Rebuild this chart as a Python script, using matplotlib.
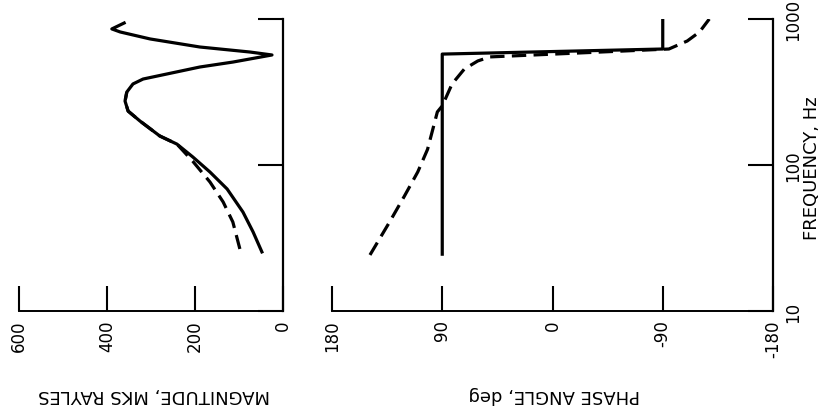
import numpy as np
import matplotlib
matplotlib.use("Agg")
import matplotlib.pyplot as plt

plt.rcParams['font.family'] = ['DejaVu Sans']

# impedance magnitude, MKS rayls, against frequency (Hz)
mag_solid_f = [25.4, 34.8, 47.6, 68.5, 89.5, 113.5, 139, 158, 200, 234, 274, 316, 359, 388,
               420, 469, 507, 567, 594, 643, 730, 815, 855, 939]
mag_solid = [48, 68, 91, 127, 166, 205, 241, 280, 325, 352, 359, 355, 341, 318,
             264, 189, 114, 25, 75, 189, 302, 370, 389, 361]
mag_dash_f = [26.6, 40.7, 55.8, 76.5, 106, 139, 158, 200, 234, 274, 316]
mag_dash = [98, 114, 136, 166, 205, 241, 280, 325, 352, 359, 355]

# phase angle, deg
ph_solid_f = [24.5, 575, 623, 1050]
ph_solid = [90, 90, -90, -90]
ph_dash_f = [24.2, 40.7, 61, 89.6, 128, 231, 254, 359, 454, 516, 550, 623, 707, 815, 1000]
ph_dash = [149, 133, 121, 110, 102, 94, 90, 82, 72, 61, 51, -95, -110, -120, -128]

mag_ticks = [0, 200, 400, 600]
ph_ticks = [180, 90, 0, -90, -180]
f_ticks = [10, 100, 1000]

fig = plt.figure(figsize=(8.23, 4.14), dpi=100)
W, H = 823, 414

def px_axes(x0, x1, y0, y1):
    return fig.add_axes([x0 / W, 1 - y1 / H, (x1 - x0) / W, (y1 - y0) / H])

ax1 = px_axes(19, 283, 20, 312)
ax2 = px_axes(332, 773, 20, 312)

lw = 2.3
ax1.plot(mag_solid, mag_solid_f, color='black', lw=lw, solid_joinstyle='round')
ax1.plot(mag_dash, mag_dash_f, color='black', lw=lw, dashes=(4.5, 2.3))
ax2.plot(ph_solid, ph_solid_f, color='black', lw=lw)
ax2.plot(ph_dash, ph_dash_f, color='black', lw=lw, dashes=(4.5, 2.3))

for ax, ticks, lim in [(ax1, mag_ticks, (600, 0)), (ax2, ph_ticks, (180, -180))]:
    ax.set_yscale('log')
    ax.set_ylim(10, 1000)
    ax.set_xlim(*lim)
    ax.set_xticks(ticks)
    ax.set_xticklabels([str(t) for t in ticks], rotation=90, fontsize=12)
    ax.set_yticks(f_ticks)
    ax.yaxis.set_minor_locator(matplotlib.ticker.NullLocator())
    ax.yaxis.tick_right()
    ax.spines['top'].set_visible(False)
    ax.spines['left'].set_visible(False)
    ax.spines['bottom'].set_linewidth(1.4)
    ax.spines['right'].set_linewidth(1.6)
    ax.tick_params(direction='in', length=18, width=1.5, pad=6)
    ax.patch.set_alpha(0)

ax1.set_yticklabels([])
ax2.set_yticklabels([str(t) for t in f_ticks], rotation=90, fontsize=12, va='center')
ax2.tick_params(axis='y', pad=8)

fig.text(154 / W, 1 - 395 / H, 'MAGNITUDE, MKS RAYLES', rotation=180,
         ha='center', va='center', fontsize=13)
fig.text(554 / W, 1 - 395 / H, 'PHASE ANGLE, deg', rotation=180,
         ha='center', va='center', fontsize=13)
fig.text(812 / W, 1 - 168 / H, 'FREQUENCY, Hz', rotation=90,
         ha='center', va='center', fontsize=13)

fig.savefig('out.png', dpi=100)
